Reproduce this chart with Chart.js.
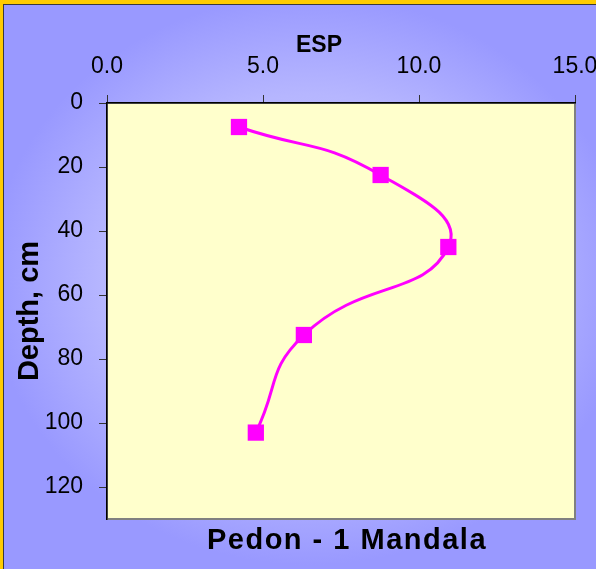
<!DOCTYPE html>
<html>
<head>
<meta charset="utf-8">
<script src="https://cdn.jsdelivr.net/npm/chart.js@4/dist/chart.umd.min.js"></script>
<style>
  html, body { margin: 0; padding: 0; overflow: hidden; background: #FFCC00; }
  #wrap { width: 596px; height: 569px; position: relative; }
  canvas { display: block; }
</style>
</head>
<body>
<div id="wrap"><canvas id="c" width="596" height="569"></canvas></div>
<script>
// Soil profile: exchangeable sodium percentage by depth
const depthCm = [7.5, 22.5, 45, 72.5, 103];
const espValues = [4.23, 8.77, 10.94, 6.31, 4.77];
const espTicks = [0, 5, 10, 15];
const depthTicks = [0, 20, 40, 60, 80, 100, 120];
const espTitle = 'ESP';
const depthTitle = 'Depth, cm';
const profileName = 'Pedon - 1 Mandala';

const FONT = "'Liberation Sans', Arial, sans-serif";

// Panel frame, periwinkle glow and the pale plot area
const panelBackground = {
  id: 'panelBackground',
  beforeDraw(chart) {
    const { ctx, width, height, chartArea: a } = chart;
    ctx.save();
    ctx.fillStyle = '#FFCC00';
    ctx.fillRect(0, 0, width, height);
    ctx.fillStyle = '#3a3a3a';
    ctx.fillRect(3, 4, width - 3, height - 4);
    // elliptical glow centred behind the plot
    const cx = 310, cy = 280, rx = 320, ry = 285;
    ctx.save();
    ctx.beginPath();
    ctx.rect(4, 5, width - 4, height - 5);
    ctx.clip();
    ctx.translate(cx, cy);
    ctx.scale(rx / ry, 1);
    const g = ctx.createRadialGradient(0, 0, 0, 0, 0, ry);
    g.addColorStop(0, '#CCCCFF');
    g.addColorStop(0.65, '#B6B6FF');
    g.addColorStop(1, '#9999FF');
    ctx.fillStyle = g;
    ctx.fillRect(-cx * ry / rx - 10, -cy - 10, (width + 20) * ry / rx + 20, height + 20);
    ctx.restore();
    // plot area
    ctx.fillStyle = '#FFFFCC';
    ctx.fillRect(a.left, a.top, a.right - a.left, a.bottom - a.top);
    ctx.strokeStyle = '#808080';
    ctx.lineWidth = 2;
    ctx.strokeRect(a.left, a.top, a.right - a.left, a.bottom - a.top);
    ctx.restore();
  }
};

// Axis caption above the top scale and the profile name below the plot
const captions = {
  id: 'captions',
  afterDraw(chart) {
    const { ctx, chartArea: a } = chart;
    const mid = (a.left + a.right) / 2;
    ctx.save();
    ctx.fillStyle = '#000';
    ctx.textAlign = 'center';
    ctx.textBaseline = 'alphabetic';
    ctx.font = 'bold 23px ' + FONT;
    ctx.fillText(espTitle, mid - 22, a.top - 51);
    ctx.font = 'bold 29px ' + FONT;
    if ('letterSpacing' in ctx) ctx.letterSpacing = '1.5px';
    ctx.fillText(profileName, mid + 6, a.bottom + 30);
    ctx.restore();
  }
};

new Chart(document.getElementById('c'), {
  type: 'line',
  data: {
    datasets: [{
      data: depthCm.map((d, i) => ({ x: espValues[i], y: d })),
      borderColor: '#FF00FF',
      backgroundColor: '#FF00FF',
      borderWidth: 3,
      tension: 0.5,
      pointStyle: 'rect',
      pointRadius: 11.5,
      pointBorderWidth: 0,
      pointHoverRadius: 11.5,
      fill: false
    }]
  },
  options: {
    responsive: false,
    animation: false,
    devicePixelRatio: 1,
    layout: { padding: { left: 4, top: 5, right: 21, bottom: 50 } },
    plugins: {
      legend: { display: false },
      tooltip: { enabled: false },
      title: { display: false }
    },
    events: [],
    scales: {
      x: {
        type: 'linear',
        position: 'top',
        min: 0,
        max: 15,
        afterBuildTicks: s => { s.ticks = espTicks.map(v => ({ value: v })); },
        afterFit: s => { s.height = 98; s.paddingLeft = 0; s.paddingRight = 0; },
        ticks: {
          color: '#000',
          font: { family: FONT, size: 23 },
          padding: 15,
          maxRotation: 0,
          callback: v => Number(v).toFixed(1)
        },
        grid: { drawOnChartArea: false, drawTicks: true, tickLength: 8, color: '#333', lineWidth: 1 },
        border: { display: true, color: '#000', width: 1.5 }
      },
      y: {
        type: 'linear',
        position: 'left',
        reverse: true,
        min: 0,
        max: 130,
        afterBuildTicks: s => { s.ticks = depthTicks.map(v => ({ value: v })); },
        afterFit: s => { s.width = 103; s.paddingTop = 0; s.paddingBottom = 0; },
        ticks: {
          color: '#000',
          font: { family: FONT, size: 23 },
          padding: 16
        },
        grid: { drawOnChartArea: false, drawTicks: true, tickLength: 8, color: '#333', lineWidth: 1 },
        border: { display: true, color: '#000', width: 1.5 },
        title: {
          display: true,
          text: depthTitle,
          color: '#000',
          font: { family: FONT, size: 29, weight: 'bold' },
          padding: { top: 8.6, bottom: 0 }
        }
      }
    }
  },
  plugins: [panelBackground, captions]
});
</script>
</body>
</html>
